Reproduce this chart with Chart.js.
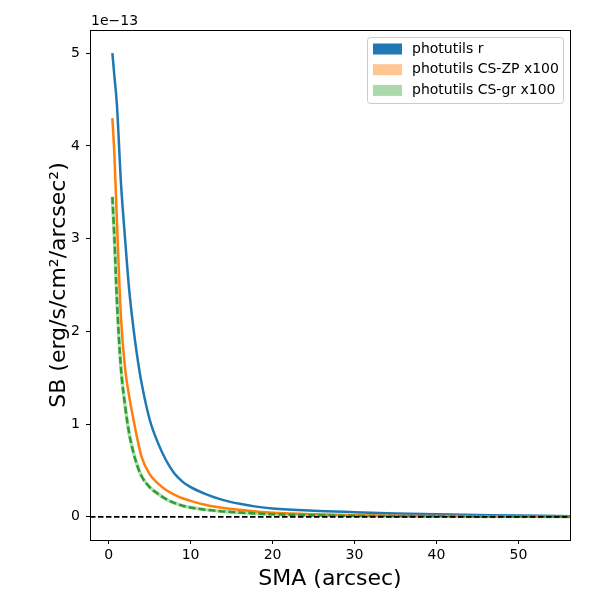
<!DOCTYPE html>
<html>
<head>
<meta charset="utf-8">
<script src="https://cdn.jsdelivr.net/npm/chart.js@4.4.1/dist/chart.umd.min.js"></script>
<style>
  html, body { margin: 0; padding: 0; background: #fff; }
  canvas { display: block; }
</style>
</head>
<body>
<canvas id="c" width="600" height="600"></canvas>
<script>
// ---- data (surface brightness in units of 1e-13) ----
const sma = [0.45, 0.7, 1.0, 1.5, 2.0, 2.5, 3.0, 3.5, 4.0, 5.0, 6.0, 7.0, 8.0, 9.0, 10, 12, 14, 16, 18, 20, 25, 30, 35, 40, 45, 50, 56.5];
const sbR = [5.0, 4.75, 4.45, 3.6, 3.0, 2.45, 2.05, 1.72, 1.45, 1.05, 0.8, 0.61, 0.47, 0.38, 0.32, 0.24, 0.18, 0.14, 0.11, 0.09, 0.065, 0.05, 0.037, 0.027, 0.02, 0.013, 0.007];
const sbZP = [4.3, 3.9, 3.2, 2.15, 1.6, 1.3, 1.06, 0.84, 0.65, 0.46, 0.36, 0.29, 0.24, 0.2, 0.172, 0.125, 0.095, 0.075, 0.058, 0.045, 0.028, 0.018, 0.012, 0.009, 0.006, 0.004, 0.002];
const sbGR = [3.45, 3.0, 2.35, 1.6, 1.2, 0.9, 0.7, 0.55, 0.44, 0.32, 0.25, 0.19, 0.15, 0.12, 0.1, 0.075, 0.058, 0.046, 0.036, 0.028, 0.017, 0.011, 0.007, 0.005, 0.004, 0.003, 0.002];
const seriesLabels = ['photutils r', 'photutils CS-ZP x100', 'photutils CS-gr x100'];
const xTicks = [0, 10, 20, 30, 40, 50];
const yTicks = [0, 1, 2, 3, 4, 5];
const xLimits = [-2.28, 56.3];
const yLimits = [-0.25, 5.25];
const offsetLabel = '1e\u221213';
const xTitle = 'SMA (arcsec)';
const yTitle = 'SB (erg/s/cm\u00B2/arcsec\u00B2)';

const FONT = "'DejaVu Sans', sans-serif";
const C_BLUE = '#1f77b4', C_ORANGE = '#ff7f0e', C_GREEN = '#2ca02c';
const legendPatch = ['#1f77b4', 'rgba(255,127,14,0.45)', 'rgba(44,160,44,0.4)'];

const pts = (ys) => sma.map((x, i) => ({x: x, y: ys[i]}));

const framePlugin = {
  id: 'frame',
  afterDatasetsDraw(chart) {
    const {ctx, chartArea: a} = chart;
    ctx.save();
    ctx.strokeStyle = '#000';
    ctx.lineWidth = 1;
    ctx.strokeRect(Math.round(a.left) + 0.5, Math.round(a.top) + 0.5, Math.round(a.right - a.left), Math.round(a.bottom - a.top));
    // offset text
    ctx.fillStyle = '#000';
    ctx.font = '14px ' + FONT;
    ctx.textAlign = 'left';
    ctx.textBaseline = 'alphabetic';
    ctx.fillText(offsetLabel, a.left + 1, a.top - 5);
    // legend
    const lx = 367, ly = 37, lw = 196, lh = 66;
    ctx.beginPath();
    ctx.roundRect(lx + 0.5, ly + 0.5, lw, lh, 3);
    ctx.fillStyle = 'rgba(255,255,255,0.85)';
    ctx.fill();
    ctx.strokeStyle = '#cccccc';
    ctx.stroke();
    ctx.textBaseline = 'middle';
    seriesLabels.forEach((lab, i) => {
      const cy = 49 + i * 20.7;
      ctx.fillStyle = legendPatch[i];
      ctx.fillRect(373, cy - 5.5, 29, 11);
      ctx.fillStyle = '#000';
      ctx.fillText(lab, 412, cy);
    });
    ctx.restore();
  }
};

new Chart(document.getElementById('c'), {
  type: 'line',
  data: {
    datasets: [
      { label: 'band', data: pts(sbGR), borderColor: 'rgba(44,160,44,0.35)', borderWidth: 3.5, pointRadius: 0, cubicInterpolationMode: 'monotone', order: 10 },
      { label: seriesLabels[0], data: pts(sbR), borderColor: C_BLUE, borderWidth: 2.5, pointRadius: 0, cubicInterpolationMode: 'monotone', order: 4 },
      { label: seriesLabels[1], data: pts(sbZP), borderColor: C_ORANGE, borderWidth: 2.5, pointRadius: 0, cubicInterpolationMode: 'monotone', order: 3 },
      { label: seriesLabels[2], data: pts(sbGR), borderColor: C_GREEN, borderWidth: 2.5, borderDash: [7, 3], pointRadius: 0, cubicInterpolationMode: 'monotone', order: 2 },
      { label: 'zero', data: [{x: xLimits[0], y: 0}, {x: xLimits[1], y: 0}], borderColor: '#000', borderWidth: 1.8, borderDash: [5.5, 2.5], pointRadius: 0, order: 1 }
    ]
  },
  options: {
    responsive: false,
    animation: false,
    devicePixelRatio: 1,
    layout: { padding: { top: 30, right: 30, left: 0, bottom: 0 } },
    plugins: { legend: { display: false }, tooltip: { enabled: false } },
    scales: {
      x: {
        type: 'linear',
        min: xLimits[0], max: xLimits[1],
        afterFit(s) { s.height = 60; },
        afterBuildTicks(s) { s.ticks = xTicks.map(v => ({value: v})); },
        grid: { drawOnChartArea: false, drawTicks: true, tickLength: 4, color: '#000' },
        border: { display: true, color: '#000', width: 1 },
        ticks: { color: '#000', font: { family: FONT, size: 14 }, padding: 3, maxRotation: 0 },
        title: { display: true, text: xTitle, color: '#000', font: { family: FONT, size: 22 }, padding: { top: 0, bottom: 8 } }
      },
      y: {
        type: 'linear',
        min: yLimits[0], max: yLimits[1],
        afterFit(s) { s.width = 90; },
        afterBuildTicks(s) { s.ticks = yTicks.map(v => ({value: v})); },
        grid: { drawOnChartArea: false, drawTicks: true, tickLength: 4, color: '#000' },
        border: { display: true, color: '#000', width: 1 },
        ticks: { color: '#000', font: { family: FONT, size: 14 }, padding: 6 },
        title: { display: true, text: yTitle, color: '#000', font: { family: FONT, size: 22 }, padding: { top: 46, bottom: 0 } }
      }
    }
  },
  plugins: [framePlugin]
});
</script>
</body>
</html>
